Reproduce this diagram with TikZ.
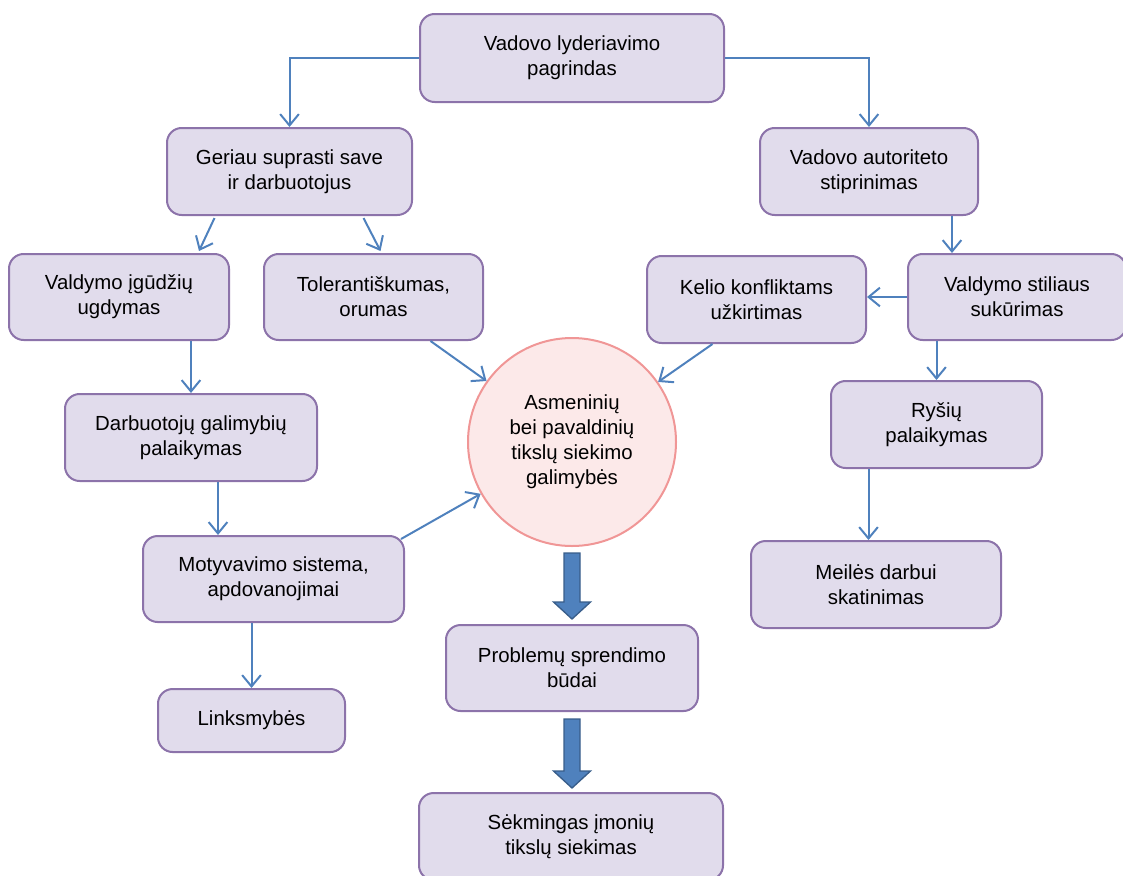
\documentclass[tikz,border=0pt]{standalone}
\usepackage{fontspec}
\setmainfont{Liberation Sans}
\usepackage{tikz}
\usetikzlibrary{calc,arrows.meta,positioning}
\definecolor{boxlavender}{RGB}{225,220,236}
\definecolor{boxpurple}{RGB}{140,115,170}
\definecolor{circlepink}{RGB}{252,233,233}
\definecolor{circlered}{RGB}{240,150,150}
\definecolor{arrowblue}{RGB}{79,129,189}
\definecolor{arrowdark}{RGB}{56,93,138}
\newcommand{\blockarrow}[2]{%
  \draw[bigarrow] ($(#1)+(-8,0)$) -- ($(#2)+(-8,-17)$) -- ($(#2)+(-18.5,-17)$) -- (#2)
    -- ($(#2)+(18.5,-17)$) -- ($(#2)+(8,-17)$) -- ($(#1)+(8,0)$) -- cycle;}

\begin{document}
\begin{tikzpicture}[x=0.75pt,y=-0.75pt,
  box/.style 2 args={draw=boxpurple,fill=boxlavender,line width=1.5pt,rounded corners=11pt,
    minimum width=#1*0.75pt,minimum height=#2*0.75pt,inner sep=0pt,align=center,
    font=\fontsize{15.3pt}{18.8pt}\selectfont},
  goal/.style={circle,draw=circlered,fill=circlepink,line width=1.5pt,minimum size=208*0.75pt,
    inner sep=0pt,align=center,font=\fontsize{15.3pt}{18.8pt}\selectfont},
  conn/.style={draw=arrowblue,line width=1.5pt,-{Straight Barb[length=8.5pt,width=14pt]}},
  bigarrow/.style={draw=arrowdark,fill=arrowblue,line width=1pt,line join=miter}]
  \useasboundingbox (0,0) rectangle (1123,875);

  \node[box={304}{88}] (lyder) at (572,58) {Vadovo lyderiavimo\\pagrindas};
  \node[box={245}{87}] (geriau) at (289.5,171.5) {Geriau suprasti save\\ir darbuotojus};
  \node[box={218}{87}] (autor) at (869,171.5) {Vadovo autoriteto\\stiprinimas};
  \node[box={220}{86}] (igud) at (119,297) {Valdymo įgūdžių\\ugdymas};
  \node[box={219}{86}] (toler) at (373.5,297) {Tolerantiškumas,\\orumas};
  \node[box={219}{87}] (kelio) at (756.5,299.5) {Kelio konfliktams\\užkirtimas};
  \node[box={218}{86}] (stil) at (1017,297) {Valdymo stiliaus\\sukūrimas};
  \node[box={252}{87}] (darb) at (191,437.5) {Darbuotojų galimybių\\palaikymas};
  \node[goal] (tiksl) at (572,442) {Asmeninių\\bei pavaldinių\\tikslų siekimo\\galimybės};
  \node[box={211}{87}] (rysiu) at (936.5,424.5) {Ryšių\\palaikymas};
  \node[box={261}{86}] (motiv) at (273.5,579) {Motyvavimo sistema,\\apdovanojimai};
  \node[box={250}{87}] (meile) at (876,584.5) {Meilės darbui\\skatinimas};
  \node[box={252}{86}] (probl) at (572,668) {Problemų sprendimo\\būdai};
  \node[box={187}{63}] (links) at (251.5,720.5) {Linksmybės};
  \node[box={304}{87}] (sekm) at (571,836.5) {Sėkmingas įmonių\\tikslų siekimas};

  % thin connectors
  \draw[conn] (lyder.west) -| (geriau.north);
  \draw[conn] (lyder.east) -| (autor.north);
  \draw[conn] ($(geriau.south)+(-75,2)$) -- ($(igud.north)+(80,-2)$);
  \draw[conn] ($(geriau.south)+(74,2)$) -- ($(toler.north)+(7,-2)$);
  \coordinate (a1) at ($(autor.south)+(83,0)$);
  \draw[conn] (a1) -- (a1 |- stil.north);
  \draw[conn] (stil.west) -- (stil.west -| kelio.east);
  \draw[conn] (rysiu.north |- stil.south) -- (rysiu.north);
  \coordinate (a2) at ($(rysiu.south)+(-68,0)$);
  \draw[conn] (a2) -- (a2 |- meile.north);
  \draw[conn] (darb.north |- igud.south) -- (darb.north);
  \coordinate (a3) at ($(darb.south)+(27,0)$);
  \draw[conn] (a3) -- (a3 |- motiv.north);
  \draw[conn] (links.north |- motiv.south) -- (links.north);
  \draw[conn] ($(toler.south)+(57,0)$) -- (tiksl);
  \draw[conn] ($(kelio.south)+(-44,0)$) -- (tiksl);
  \draw[conn] ($(motiv.north east)+(-4,4)$) -- (tiksl);

  % block arrows
  \coordinate (b1) at ($(tiksl.south)+(0,6)$);
  \coordinate (b2) at ($(probl.north)+(0,-5)$);
  \coordinate (b3) at ($(probl.south)+(0,7)$);
  \coordinate (b4) at ($(b3 |- sekm.north)+(0,-4)$);
  \blockarrow{b1}{b2}
  \blockarrow{b3}{b4}
\end{tikzpicture}
\end{document}
